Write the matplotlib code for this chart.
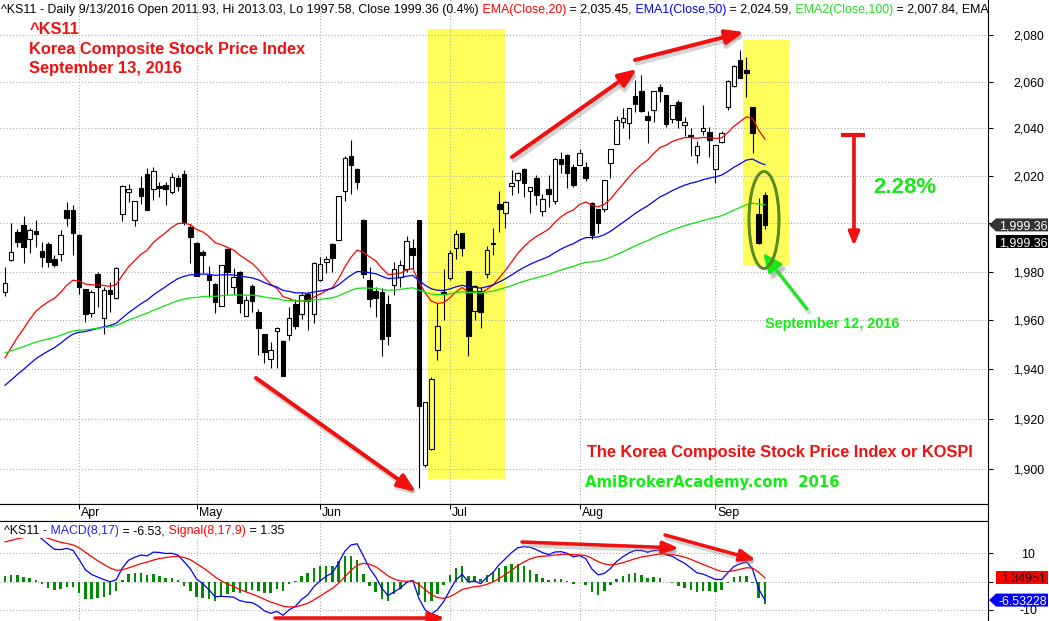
import numpy as np
import matplotlib
matplotlib.use("Agg")
import matplotlib.pyplot as plt
import matplotlib.transforms as mtransforms
from matplotlib.patches import Rectangle, Ellipse, Polygon, FancyArrowPatch, ArrowStyle
from matplotlib.lines import Line2D
from matplotlib.ticker import FixedLocator, NullLocator, NullFormatter

plt.rcParams['font.family'] = ['Liberation Sans', 'DejaVu Sans']

# ---- KOSPI daily bars (mid March .. 13 Sep 2016) ----
month_names = ['Mar', 'Apr', 'May', 'Jun', 'Jul', 'Aug', 'Sep']
sessions_per_month = [12, 19, 20, 21, 21, 22, 9]

opens = [1971.7, 1984.7, 1996.3, 1999.2, 1993.4, 1996.8, 1988.4, 1991.3, 1985.1, 1987.2,
         2005.5, 2005.8, 1995.0, 1972.7, 1963.1, 1978.9, 1961.0, 1972.3, 1969.0, 2004.1,
         2013.1, 2001.4, 2014.9, 2020.7, 2014.5, 2015.5, 2016.2, 2013.1, 2019.0, 2020.7,
         1998.6, 1992.0, 1988.3, 1978.6, 1974.9, 1965.9, 1989.4, 1973.5, 1980.0, 1961.9,
         1974.1, 1963.2, 1954.2, 1944.1, 1955.5, 1951.7, 1953.9, 1966.6, 1962.7, 1970.6,
         1962.7, 1976.4, 1983.8, 1991.6, 1993.2, 2013.6, 2028.2, 2023.0, 2001.4, 1976.7,
         1972.1, 1971.4, 1966.5, 1974.6, 1977.8, 1981.2, 1989.6, 2001.5, 1901.7, 1908.0,
         1947.7, 1971.4, 1977.5, 1989.6, 1995.8, 1980.1, 1963.8, 1972.1, 1979.2, 1991.3,
         2008.3, 2004.2, 2015.7, 2018.3, 2023.0, 2013.4, 2019.1, 2005.3, 2014.5, 2009.4,
         2027.2, 2028.9, 2023.7, 2024.7, 2023.6, 2008.6, 2006.0, 2006.0, 2025.4, 2033.5,
         2042.7, 2042.4, 2053.7, 2055.9, 2045.5, 2047.9, 2057.6, 2054.3, 2044.0, 2051.2,
         2041.4, 2037.3, 2028.6, 2038.9, 2038.5, 2023.0, 2034.1, 2049.2, 2058.0, 2069.2,
         2065.2, 2049.0, 2003.9, 2011.93]
highs = [1982.0, 2000.0, 1997.7, 2003.0, 1997.9, 2001.4, 1992.4, 1992.4, 1986.9, 1997.2,
         2009.0, 2007.6, 1995.5, 1972.9, 1972.4, 1980.0, 1973.8, 1975.9, 1981.8, 2016.1,
         2016.6, 2009.4, 2020.0, 2023.2, 2023.5, 2017.2, 2017.2, 2021.0, 2020.3, 2022.4,
         1999.6, 1992.2, 1988.8, 1982.3, 1975.1, 1982.8, 1989.6, 1981.4, 1980.2, 1970.0,
         1974.9, 1964.5, 1954.4, 1951.2, 1957.4, 1951.9, 1965.3, 1968.7, 1971.6, 1971.6,
         1984.1, 1986.2, 1986.4, 1991.8, 2011.6, 2028.2, 2035.0, 2023.2, 2001.7, 1981.9,
         1973.7, 1973.4, 1970.3, 1983.9, 1984.6, 1994.7, 1993.7, 2001.6, 1927.0, 1937.0,
         1966.9, 1981.2, 1989.0, 1997.2, 1996.0, 1980.3, 1974.3, 1973.7, 1990.6, 1997.9,
         2013.4, 2009.2, 2022.3, 2021.5, 2023.2, 2015.4, 2020.4, 2012.1, 2020.4, 2027.4,
         2030.1, 2029.1, 2025.1, 2031.4, 2025.8, 2008.8, 2006.2, 2018.2, 2031.3, 2045.5,
         2048.7, 2048.9, 2060.7, 2062.9, 2047.6, 2056.0, 2058.9, 2054.5, 2050.2, 2052.3,
         2045.0, 2040.3, 2034.7, 2049.9, 2040.5, 2033.0, 2039.0, 2060.6, 2067.3, 2073.5,
         2070.6, 2049.2, 2010.5, 2013.03]
lows = [1970.0, 1984.5, 1990.3, 1983.4, 1987.6, 1990.3, 1981.8, 1982.0, 1981.8, 1984.5,
        1999.0, 1986.9, 1970.6, 1959.3, 1961.4, 1965.5, 1954.2, 1963.4, 1968.7, 2001.1,
        2009.0, 1999.0, 2008.0, 2005.6, 2009.7, 2011.0, 2007.5, 2012.4, 2013.4, 1999.3,
        1983.7, 1978.0, 1979.6, 1969.6, 1963.0, 1965.7, 1970.7, 1970.3, 1963.0, 1961.7,
        1963.4, 1946.0, 1942.7, 1940.7, 1940.7, 1937.2, 1951.9, 1956.3, 1960.4, 1955.9,
        1959.0, 1976.1, 1979.3, 1980.0, 1993.0, 2009.2, 2012.4, 2014.6, 1977.2, 1965.6,
        1961.5, 1945.5, 1950.0, 1970.3, 1973.7, 1979.9, 1981.2, 1892.8, 1901.0, 1907.7,
        1943.8, 1960.1, 1976.6, 1985.4, 1986.4, 1945.6, 1960.0, 1957.0, 1977.2, 1986.9,
        1996.5, 1997.9, 2011.8, 2012.7, 2011.0, 2004.5, 2007.8, 2003.0, 2006.7, 2008.3,
        2021.3, 2014.9, 2015.2, 2024.5, 2017.6, 1993.3, 1995.8, 2004.7, 2019.0, 2033.3,
        2040.4, 2035.7, 2046.9, 2047.1, 2034.0, 2042.7, 2051.2, 2040.7, 2042.2, 2040.0,
        2036.8, 2028.2, 2025.4, 2037.3, 2027.9, 2017.0, 2033.9, 2048.0, 2057.7, 2061.5,
        2053.4, 2029.7, 1991.5, 1997.58]
closes = [1975.2, 1988.0, 1992.1, 1990.0, 1997.2, 1995.4, 1985.9, 1984.0, 1982.6, 1995.0,
          2002.1, 1995.9, 1973.5, 1962.7, 1971.4, 1973.8, 1972.3, 1970.6, 1981.4, 2015.6,
          2014.5, 2009.2, 2011.3, 2005.8, 2021.8, 2014.8, 2014.5, 2019.5, 2015.5, 2000.7,
          1994.2, 1978.2, 1986.9, 1976.7, 1967.6, 1982.8, 1980.0, 1977.8, 1966.9, 1968.1,
          1968.0, 1957.0, 1946.9, 1947.7, 1956.8, 1937.4, 1961.1, 1957.6, 1970.2, 1967.9,
          1983.4, 1983.0, 1985.1, 1985.8, 2011.4, 2027.3, 2024.3, 2017.3, 1979.2, 1968.6,
          1969.0, 1952.3, 1953.6, 1981.2, 1982.9, 1992.6, 1986.8, 1925.2, 1926.7, 1936.3,
          1957.6, 1970.6, 1987.6, 1995.4, 1989.9, 1953.6, 1974.1, 1963.4, 1989.0, 1991.5,
          2006.0, 2009.0, 2017.1, 2021.3, 2017.0, 2015.2, 2011.9, 2010.2, 2012.4, 2027.2,
          2025.1, 2021.1, 2016.2, 2029.7, 2019.0, 1995.1, 2000.0, 2018.0, 2031.1, 2043.7,
          2044.5, 2048.7, 2050.4, 2047.3, 2043.8, 2055.8, 2056.2, 2042.0, 2050.0, 2043.7,
          2042.9, 2036.8, 2032.4, 2040.0, 2035.0, 2032.8, 2038.1, 2060.1, 2066.6, 2061.7,
          2063.9, 2037.9, 1991.7, 1999.36]

# moving averages and their value at the first visible bar
ema_periods = [20, 50, 100]
ema_start = [1944.7, 1933.6, 1946.7]
ema_colors = ['#ff0000', '#0000ff', '#10e010']
# MACD(8,17) / Signal(8,17,9): fast EMA, slow EMA and signal at the first bar
macd_periods = [8, 17, 9]
macd_start = [1965.0, 1949.0, 14.0]

price_ticks = [1900, 1920, 1940, 1960, 1980, 2000, 2020, 2040, 2060, 2080]
macd_ticks = [-10, 0, 10]


def ema(values, period, start):
    k = 2.0 / (period + 1)
    out = [start]
    for v in values[1:]:
        out.append(out[-1] + k * (v - out[-1]))
    return np.array(out)


o = np.array(opens); h = np.array(highs); l = np.array(lows); c = np.array(closes)
n = len(c)
idx = np.arange(n)
month_starts = np.cumsum([0] + sessions_per_month[:-1])

emas = [ema(c, p, s) for p, s in zip(ema_periods, ema_start)]
macd = ema(c, macd_periods[0], macd_start[0]) - ema(c, macd_periods[1], macd_start[1])
signal = ema(macd, macd_periods[2], macd_start[2])
hist = macd - signal

# ---- figure layout (pixel based, 1049x621) ----
W, H = 1049, 621
fig = plt.figure(figsize=(W / 100, H / 100), dpi=100)
PIX = mtransforms.Affine2D().scale(1, -1).translate(0, H)   # pixels from top-left
ID = mtransforms.IdentityTransform()

step = 6.178
xlim = (-5 / step, (988 - 5) / step)
grid_kw = dict(color='#a8a8a8', linestyle=(0, (1, 2)), linewidth=0.75)

ax = fig.add_axes([0, 1 - 504 / H, 988 / W, 504 / H])
axd = fig.add_axes([0, 100 / H, 988 / W, 17 / H])
axm = fig.add_axes([0, 0, 988 / W, 100 / H])

# price panel
ax.set_yscale('log')
ax.set_xlim(*xlim)
ax.set_ylim(1886.3, 2095.4)
ax.yaxis.set_major_locator(FixedLocator(price_ticks))
ax.yaxis.set_minor_locator(NullLocator())
ax.yaxis.set_major_formatter(NullFormatter())
ax.yaxis.set_minor_formatter(NullFormatter())
ax.yaxis.tick_right()
ax.xaxis.set_major_locator(FixedLocator(month_starts[1:]))
ax.xaxis.set_major_formatter(NullFormatter())
ax.tick_params(axis='x', length=0)
ax.tick_params(axis='y', direction='out', length=3.6, width=0.75)
ax.set_axisbelow(True)
ax.grid(True, **grid_kw)
for s in ('top', 'left'):
    ax.spines[s].set_visible(False)
for s in ('right', 'bottom'):
    ax.spines[s].set_linewidth(0.8)

for x0, y0, x1, y1 in [(428, 29, 505, 479), (743, 40, 789, 266)]:
    ax.add_patch(Rectangle((x0, y1), x1 - x0, y0 - y1, transform=PIX,
                           facecolor='#ffff5c', edgecolor='none', zorder=0.2))

top = np.maximum(o, c)
bot = np.minimum(o, c)
body = np.maximum(top - bot, 0.35)
up = c >= o
ax.vlines(idx, top, h, color='black', lw=0.8, zorder=3)
ax.vlines(idx, l, bot, color='black', lw=0.8, zorder=3)
ax.bar(idx[up], body[up], bottom=bot[up], width=0.74, facecolor='none',
       edgecolor='black', linewidth=0.8, zorder=4)
ax.bar(idx[~up], body[~up], bottom=bot[~up], width=0.74, facecolor='black',
       edgecolor='black', linewidth=0.8, zorder=4)
for e, col in zip(emas, ema_colors):
    ax.plot(idx, e, color=col, lw=0.9, zorder=5)

# date strip
axd.set_xlim(*xlim)
axd.set_ylim(0, 1)
axd.set_yticks([])
axd.xaxis.set_major_locator(FixedLocator(month_starts[1:]))
axd.xaxis.set_major_formatter(NullFormatter())
axd.tick_params(axis='x', direction='in', length=3.6, width=0.75, top=True, bottom=False)
axd.spines['left'].set_visible(False)
for s in ('top', 'bottom', 'right'):
    axd.spines[s].set_linewidth(0.8)
lab_tr = mtransforms.offset_copy(axd.transData, fig=fig, x=2, y=0, units='dots')
for m, name in zip(month_starts[1:], month_names[1:]):
    axd.text(m, 0.3, name, transform=lab_tr, fontsize=8.9, ha='left', va='baseline')

# MACD panel
axm.set_xlim(*xlim)
axm.set_ylim(-13.88, 21.39)
axm.yaxis.tick_right()
axm.yaxis.set_major_locator(FixedLocator(macd_ticks))
axm.yaxis.set_major_formatter(NullFormatter())
axm.xaxis.set_major_locator(FixedLocator(month_starts[1:]))
axm.xaxis.set_major_formatter(NullFormatter())
axm.tick_params(axis='x', length=0)
axm.tick_params(axis='y', direction='out', length=3.6, width=0.75)
axm.set_axisbelow(True)
axm.grid(True, **grid_kw)
for s in ('left', 'bottom'):
    axm.spines[s].set_visible(False)
for s in ('top', 'right'):
    axm.spines[s].set_linewidth(0.8)
axm.bar(idx, hist, width=0.4, color='#008c00', zorder=2)
axm.plot(idx, macd, color='#0000ff', lw=0.9, zorder=3)
axm.plot(idx, signal, color='#ff0000', lw=0.9, zorder=3)

# right axis labels (2,000 and 0 sit under the value tags in the original)
btr = mtransforms.blended_transform_factory(ID, ax.transData)
for p in price_ticks:
    if p != 2000:
        ax.text(1028.5, p, f'{p:,}', transform=btr, ha='center', va='center_baseline',
                fontsize=8.9, clip_on=False)
mtr = mtransforms.blended_transform_factory(ID, axm.transData)
for v in macd_ticks:
    if v != 0:
        axm.text(1028.5, v, f'{v}', transform=mtr, ha='center', va='center_baseline',
                 fontsize=8.9, clip_on=False)


def value_tag(target, val, text, face, tcolor, pointer, dy=0):
    yd = target.transData.transform((0, val))[1] - dy
    hh = 6.5
    if pointer:
        pts = [(989, yd), (996, yd + hh), (1048, yd + hh), (1048, yd - hh), (996, yd - hh)]
    else:
        pts = [(996, yd + hh), (1048, yd + hh), (1048, yd - hh), (996, yd - hh)]
    fig.add_artist(Polygon(pts, closed=True, transform=ID, facecolor=face,
                           edgecolor='none', zorder=8))
    fig.text(1023, yd, text, transform=ID, ha='center', va='center_baseline',
             fontsize=8.9, color=tcolor, zorder=9)


value_tag(ax, c[-1], '1,999.36', '#333333', 'white', True)
value_tag(ax, c[-1], '1,999.36', '#000000', 'white', False, dy=17)
value_tag(axm, signal[-1], '1.34951', '#ff0000', '#111111', False)
value_tag(axm, macd[-1], '-6.53228', '#0000ff', 'white', True)


# coloured legend lines
def chain(target, x, y, pieces, size, bg=None):
    prev = None
    for s, col in pieces:
        kw = dict(fontsize=size, color=col, ha='left', annotation_clip=False, zorder=7,
                  clip_on=True)
        if bg:
            kw['bbox'] = dict(facecolor=bg, edgecolor='none', boxstyle='square,pad=0.05')
        if prev is None:
            prev = target.annotate(s, xy=(x, y), xycoords=PIX, va='baseline', **kw)
        else:
            prev = target.annotate(s, xy=(1, 0), xycoords=prev, va='bottom', **kw)


chain(ax, 1, 12.7, [
    ('^KS11 - Daily 9/13/2016 Open 2011.93, Hi 2013.03, Lo 1997.58, Close 1999.36 (0.4%)', 'black'),
    (' EMA(Close,20)', '#ff0000'), (' = 2,035.45,', 'black'),
    (' EMA1(Close,50)', '#0000ff'), (' = 2,024.59,', 'black'),
    (' EMA2(Close,100)', '#22dd22'), (' = 2,007.84, EMA3(', 'black')], 8.9)
chain(axm, 4, 534, [
    ('^KS11 -', 'black'), (' MACD(8,17)', '#2222ff'), (' = -6.53,', 'black'),
    (' Signal(8,17,9)', '#ff0000'), (' = 1.35', 'black')], 8.9, bg='white')

# annotations
red = '#f01010'
green = '#18e818'
bold = dict(fontweight='bold', transform=PIX, va='baseline', ha='left', zorder=9)
fig.text(29.3, 34.3, '^KS11', color=red, fontsize=11.8, **bold)
fig.text(29.3, 54, 'Korea Composite Stock Price Index', color=red, fontsize=11.8, **bold)
fig.text(29.3, 72.7, 'September 13, 2016', color=red, fontsize=11.8, **bold)
fig.text(586.7, 456.7, 'The Korea Composite Stock Price Index or KOSPI', color=red,
         fontsize=11.8, **bold)
fig.text(585, 486.7, 'AmiBrokerAcademy.com  2016', color='#11ee11', fontsize=10.7,
         family='DejaVu Sans', **bold)
fig.text(873, 193.3, '2.28%', color=green, fontsize=16, **bold)
fig.text(765, 328, 'September 12, 2016', color='#11ee11', fontsize=10.4, **bold)


def arrow(p0, p1, color, lw_px, head_len, head_half, shadow=True):
    style = ArrowStyle('-|>', head_length=head_len * 0.72, head_width=head_half * 0.72)
    if shadow:
        fig.add_artist(FancyArrowPatch((p0[0] + 2, p0[1] + 3), (p1[0] + 2, p1[1] + 3),
                                       transform=PIX, arrowstyle=style, mutation_scale=1,
                                       lw=lw_px * 0.72 + 1, color='#888888', alpha=0.35,
                                       shrinkA=0, shrinkB=0, zorder=6))
    fig.add_artist(FancyArrowPatch(p0, p1, transform=PIX, arrowstyle=style, mutation_scale=1,
                                   lw=lw_px * 0.72, color=color, shrinkA=0, shrinkB=0,
                                   zorder=7))


arrow((256, 378), (416, 492), red, 4, 15, 6)
arrow((512, 157), (637, 69), red, 4, 15, 6)
arrow((635, 60), (744, 32), red, 4, 15, 6)
arrow((275, 618), (445, 618), red, 3.5, 13, 5)
arrow((522, 542), (679, 548), red, 3.5, 13, 5)
arrow((665, 535), (756, 560), red, 3.5, 13, 5)
arrow((854, 135), (854, 246), red, 3.7, 11, 4.5, shadow=False)
fig.add_artist(Line2D([841, 865], [135, 135], transform=PIX, color=red, lw=3,
                      solid_capstyle='butt', zorder=7))
arrow((807, 309), (763, 253), green, 3, 16, 7)
fig.add_artist(Ellipse((764, 220), 30, 97, transform=PIX, fill=False,
                       edgecolor='#5b8a1e', lw=2.2, zorder=7))

fig.savefig('out.png', dpi=100)
